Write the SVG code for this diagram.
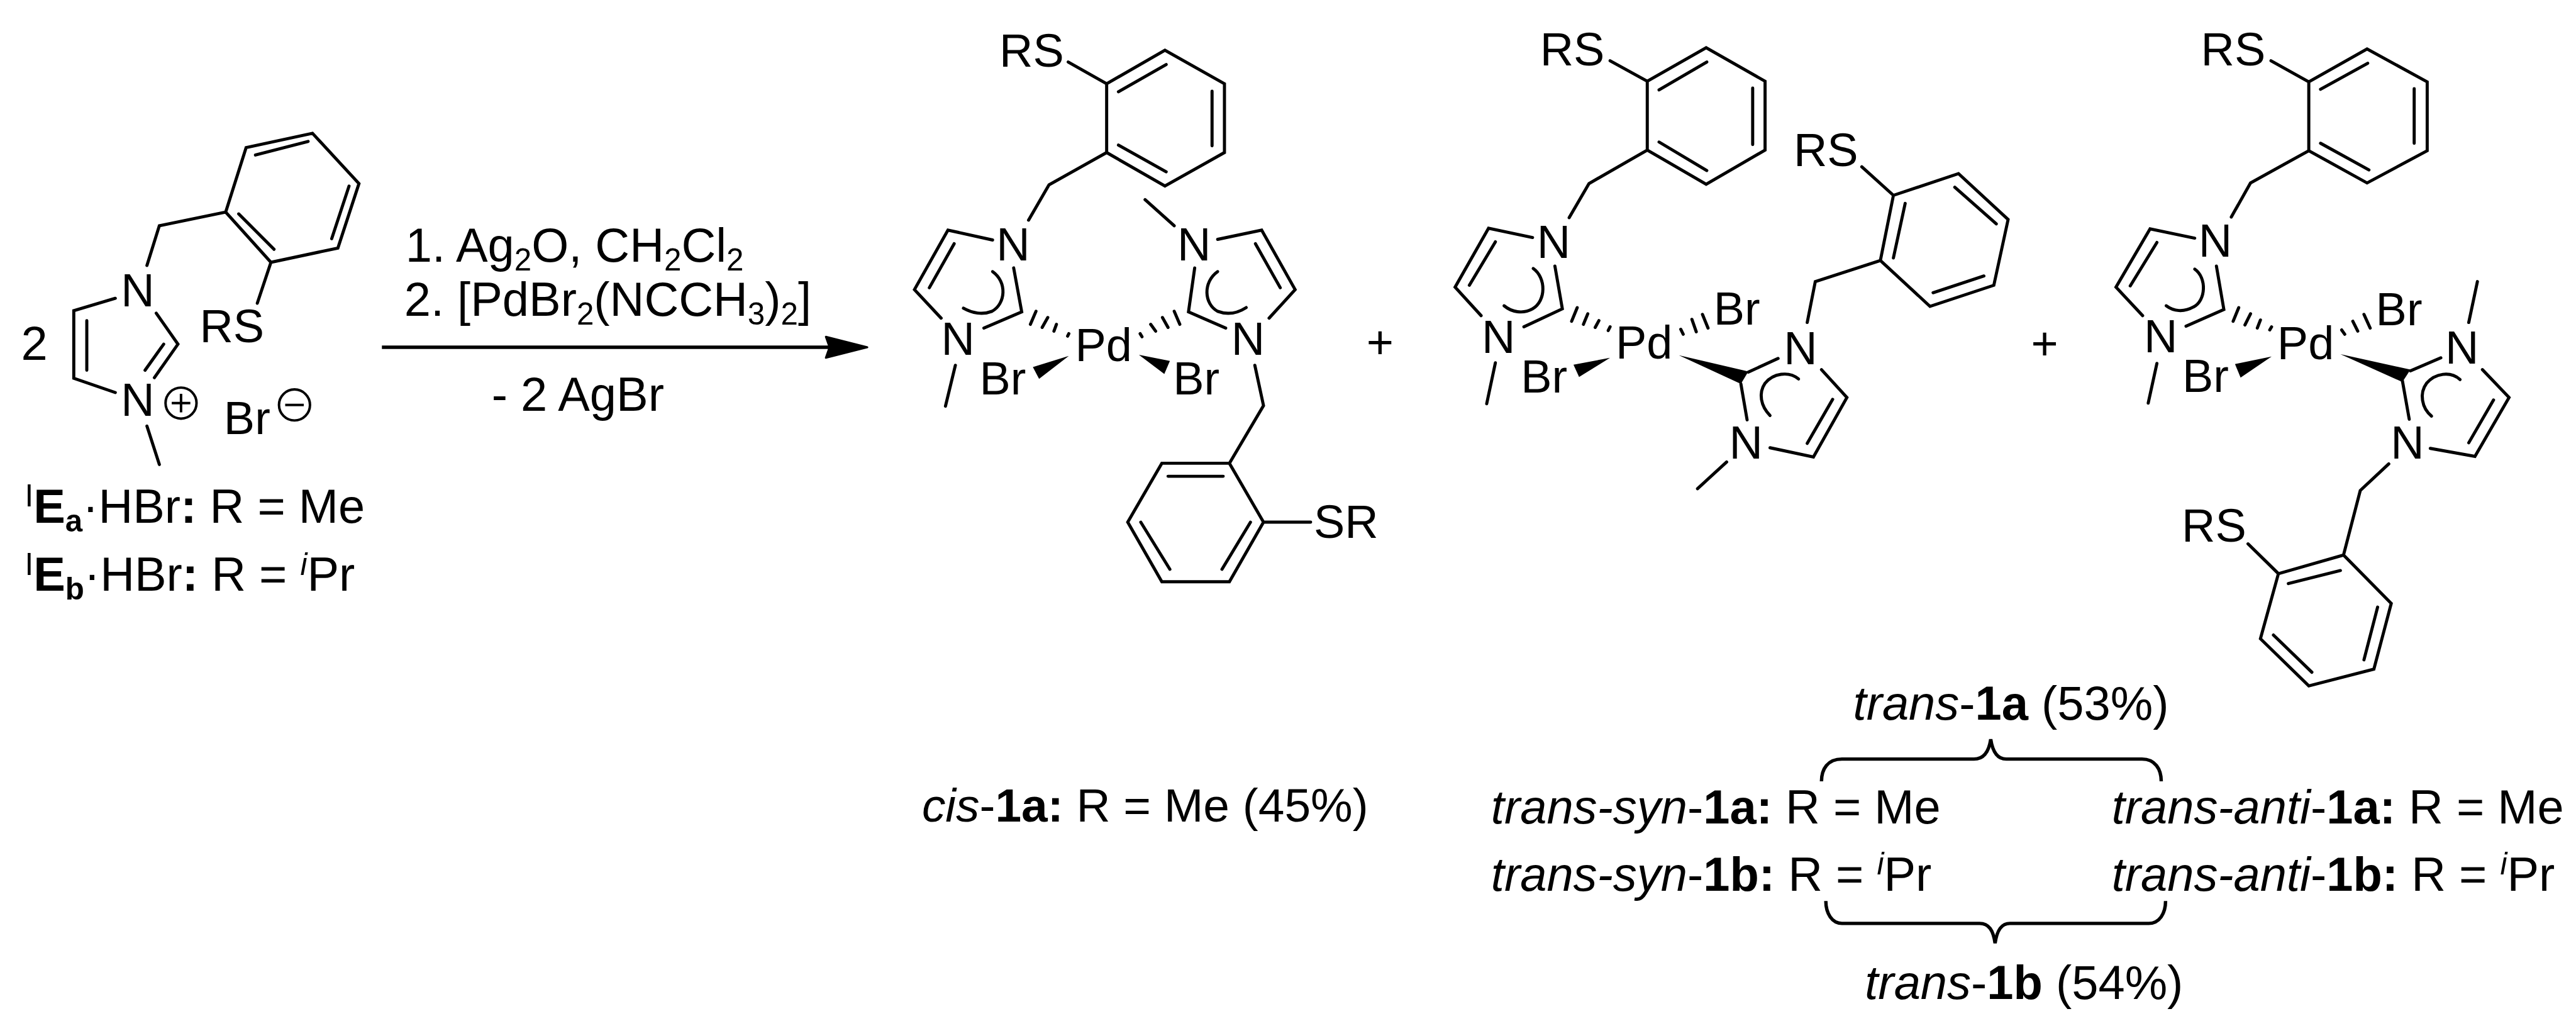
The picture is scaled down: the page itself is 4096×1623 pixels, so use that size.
<svg xmlns="http://www.w3.org/2000/svg" width="4096" height="1623" viewBox="0 0 4096 1623">
<style>
text{font-family:"Liberation Sans",Arial,sans-serif;fill:#000}
.l{font-size:75px}
.c{font-size:77px}
.b{fill:none;stroke:#000;stroke-width:5;stroke-linecap:round;stroke-linejoin:miter}
.w{fill:#000;stroke:none}
.h{font-weight:bold}
.i{font-style:italic}
.s{font-size:50px}
.sb{font-size:50px;font-weight:bold}
.q{fill:none;stroke:#000;stroke-width:4}
.br{fill:none;stroke:#000;stroke-width:5.5}
</style>
<defs>
<marker id="ah" markerUnits="userSpaceOnUse" markerWidth="76" markerHeight="42" refX="8" refY="21" orient="auto"><path d="M2 4L69 21L2 38L8 21Z" fill="#000" stroke="#000" stroke-width="3" stroke-linejoin="round"/></marker>
</defs>
<rect width="4096" height="1623" fill="#fff"/>
<g transform="scale(0.9858)">
<g id="reactant">
<path class="b" d="M397 238L504 215L579 296L545 400L437 423L364 342ZM364 342L257 364L237 428M186 481L119 501L119 610L186 633M252 505L287 555L249 609M264 555L234 597M140 517L140 597M237 687L257 749M437 423L415 489"/>
<path class="b" d="M412 250L497 228M563 300L535 385M385 345L442 402"/>
<text class="l" x="322" y="552">RS</text>
<text class="l" x="195" y="494">N</text>
<text class="l" x="195" y="671">N</text>
<text class="c" x="34" y="580">2</text>
<circle class="q" cx="292" cy="650" r="25"/><path class="q" d="M277 650H307M292 635V665"/>
<text class="l" x="361" y="700">Br</text>
<circle class="q" cx="475" cy="653" r="25"/><path class="q" d="M460 653H490"/>
<text class="c" x="40" y="843"><tspan class="s" dy="-26">I</tspan><tspan class="h" dy="26">E</tspan><tspan class="sb" dy="14">a</tspan><tspan dy="-14">·HBr</tspan><tspan class="h">:</tspan> R = Me</text>
<text class="c" x="40" y="953"><tspan class="s" dy="-26">I</tspan><tspan class="h" dy="26">E</tspan><tspan class="sb" dy="14">b</tspan><tspan dy="-14">·HBr</tspan><tspan class="h">:</tspan> R = <tspan class="s i" dy="-26">i</tspan><tspan dy="26">Pr</tspan></text>
</g>
<g id="conditions">
<text class="c" x="654" y="422">1. Ag<tspan class="s" dy="14">2</tspan><tspan dy="-14">O, CH</tspan><tspan class="s" dy="14">2</tspan><tspan dy="-14">Cl</tspan><tspan class="s" dy="14">2</tspan></text>
<text class="c" x="652" y="509">2. [PdBr<tspan class="s" dy="14">2</tspan><tspan dy="-14">(NCCH</tspan><tspan class="s" dy="14">3</tspan><tspan dy="-14">)</tspan><tspan class="s" dy="14">2</tspan><tspan dy="-14">]</tspan></text>
<text class="c" x="793" y="662">- 2 AgBr</text>
</g>
<g id="complex-cis">
<path class="b" d="M1785 135L1879 81L1975 135L1975 246L1879 300L1785 246ZM1804 148L1881 104M1955 147V235M1804 234L1881 277M1723 100L1785 135M1785 246L1692 298L1659 355"/>
<path class="b" d="M1601 387L1529 371L1475 467L1518 513M1635 432L1648 503L1587 529M1539 393L1499 464M1541 589L1525 655"/>
<path class="b" d="M1601 438C1625 455 1622 490 1600 502C1585 508 1568 505 1554 497"/>
<path class="b" d="M1671 502L1662 523M1690 512L1681 528M1704 523L1700 534M1724 538L1722 542"/>
<polygon class="w" points="1724,574 1666,592 1676,611"/>
<polygon class="w" points="1837,572 1887,582 1878,603"/>
<path class="b" d="M1894 502L1903 523M1875 512L1884 528M1856 523L1864 534M1839 538L1842 543"/>
<path class="b" d="M1894 364L1847 322M1964 386L2035 371L2089 467L2047 513M1927 432L1917 503L1977 529M2025 393L2065 464"/>
<path class="b" d="M1964 438C1940 455 1942 490 1964 502C1980 508 1996 505 2010 496"/>
<path class="b" d="M2024 589L2038 654L1983 747M1983 747L1874 747L1819 842L1874 938L1983 938L2038 842ZM1884 768L1973 768M1840 842L1887 918M1971 918L2017 842M2038 842L2114 842"/>
<text class="l" x="1612" y="108">RS</text>
<text class="l" x="1607" y="420">N</text>
<text class="l" x="1518" y="572">N</text>
<text class="l" x="1734" y="582">Pd</text>
<text class="l" x="1580" y="636">Br</text>
<text class="l" x="1892" y="636">Br</text>
<text class="l" x="1899" y="420">N</text>
<text class="l" x="1986" y="572">N</text>
<text class="l" x="2119" y="867">SR</text>
</g>
<g id="plus-1"><text class="l" x="2204" y="578">+</text></g>
<g id="complex-trans-syn">
<path class="b" d="M2657 131L2752 77L2847 131L2847 242L2752 297L2657 242ZM2676 145L2753 100M2827 142V233M2676 229L2753 275M2597 98L2657 131M2657 242L2563 296L2531 351"/>
<path class="b" d="M2472 383L2401 368L2347 463L2389 509M2508 429L2520 498L2458 527M2412 390L2370 460M2412 585L2398 651"/>
<path class="b" d="M2473 433C2494 448 2494 485 2472 498C2456 507 2438 503 2426 493"/>
<path class="b" d="M2544 496L2535 518M2561 506L2554 523M2579 517L2573 528M2597 527L2594 533"/>
<polygon class="w" points="2597,577 2538,588 2547,608"/>
<path class="b" d="M2746 507L2755 529M2729 515L2736 535M2711 531L2715 539"/>
<polygon class="w" points="2708,573 2820,599 2808,619"/>
<path class="b" d="M2868 578L2820 600M2938 596L2979 641L2925 737L2855 722M2808 619L2818 677M2956 644L2915 715M2785 745L2738 788"/>
<path class="b" d="M2901 611C2885 598 2860 602 2847 618C2836 634 2840 655 2855 670"/>
<path class="b" d="M2915 520L2928 454L3033 420M3033 420L3054 315L3159 280L3239 354L3216 460L3113 494ZM3054 315L3003 269M3073 328L3054 416M3153 302L3220 361M3200 445L3118 472"/>
<text class="l" x="2484" y="105">RS</text>
<text class="l" x="2479" y="416">N</text>
<text class="l" x="2390" y="569">N</text>
<text class="l" x="2606" y="578">Pd</text>
<text class="l" x="2453" y="633">Br</text>
<text class="l" x="2764" y="523">Br</text>
<text class="l" x="2877" y="587">N</text>
<text class="l" x="2789" y="740">N</text>
<text class="l" x="2893" y="268">RS</text>
</g>
<g id="plus-2"><text class="l" x="3276" y="580">+</text></g>
<g id="complex-trans-anti">
<path class="b" d="M3724 132L3818 79L3915 132L3915 243L3818 295L3724 243ZM3743 144L3819 102M3894 143V231M3743 231L3821 274M3663 98L3724 132M3724 243L3630 295L3599 350"/>
<path class="b" d="M3540 384L3468 369L3413 463L3456 509M3575 429L3587 499L3526 526M3479 391L3436 461M3479 586L3465 650"/>
<path class="b" d="M3540 434C3560 448 3558 485 3538 495C3522 504 3506 502 3494 493"/>
<path class="b" d="M3611 496L3602 518M3630 506L3621 524M3646 516L3641 529M3664 527L3661 532"/>
<polygon class="w" points="3664,575 3605,587 3614,609"/>
<path class="b" d="M3813 507L3823 529M3795 518L3803 534M3777 532L3782 539"/>
<polygon class="w" points="3775,571 3888,596 3875,616"/>
<path class="b" d="M3888 598L3937 577M3982 520L3996 454M4004 596L4047 641L3992 736L3920 723M3875 614L3886 676M4022 645L3982 714"/>
<path class="b" d="M3968 612C3952 598 3928 602 3914 618C3902 634 3906 658 3922 671"/>
<path class="b" d="M3853 748L3807 791L3780 895M3780 895L3857 973L3829 1079L3724 1106L3646 1030L3675 925ZM3675 925L3626 877M3691 941L3775 920M3835 979L3813 1064M3729 1084L3667 1024"/>
<text class="l" x="3550" y="105">RS</text>
<text class="l" x="3546" y="414">N</text>
<text class="l" x="3458" y="568">N</text>
<text class="l" x="3673" y="579">Pd</text>
<text class="l" x="3520" y="632">Br</text>
<text class="l" x="3832" y="524">Br</text>
<text class="l" x="3944" y="586">N</text>
<text class="l" x="3856" y="739">N</text>
<text class="l" x="3519" y="873">RS</text>
</g>
<g id="captions">
<text style="font-size:76px" x="1487" y="1325"><tspan class="i">cis</tspan>-<tspan class="h">1a:</tspan> R = Me (45%)</text>
<text class="c" x="2989" y="1160"><tspan class="i">trans</tspan>-<tspan class="h">1a</tspan> (53%)</text>
<text class="c" x="2405" y="1328"><tspan class="i">trans-syn</tspan>-<tspan class="h">1a:</tspan> R = Me</text>
<text class="c" x="2405" y="1436"><tspan class="i">trans-syn</tspan>-<tspan class="h">1b:</tspan> R = <tspan class="s i" dy="-26">i</tspan><tspan dy="26">Pr</tspan></text>
<text class="c" x="3406" y="1328"><tspan class="i">trans-anti</tspan>-<tspan class="h">1a:</tspan> R = Me</text>
<text class="c" x="3406" y="1436"><tspan class="i">trans-anti</tspan>-<tspan class="h">1b:</tspan> R = <tspan class="s i" dy="-26">i</tspan><tspan dy="26">Pr</tspan></text>
<text class="c" x="3008" y="1611"><tspan class="i">trans</tspan>-<tspan class="h">1b</tspan> (54%)</text>
</g>
<g id="connectors">
<path d="M616 560H1338" fill="none" stroke="#000" stroke-width="5.5" marker-end="url(#ah)"/>
<path class="br" d="M2938 1260C2938 1240 2948 1224 2971 1224H3184C3200 1224 3208 1212 3211 1192C3214 1212 3222 1224 3236 1224H3455C3476 1224 3486 1240 3486 1260"/>
<path class="br" d="M2945 1453C2945 1473 2955 1489 2971 1489H3193C3208 1489 3215 1500 3218 1521C3221 1500 3228 1489 3242 1489H3466C3483 1489 3493 1473 3493 1453"/>
</g>
</g>
</svg>
